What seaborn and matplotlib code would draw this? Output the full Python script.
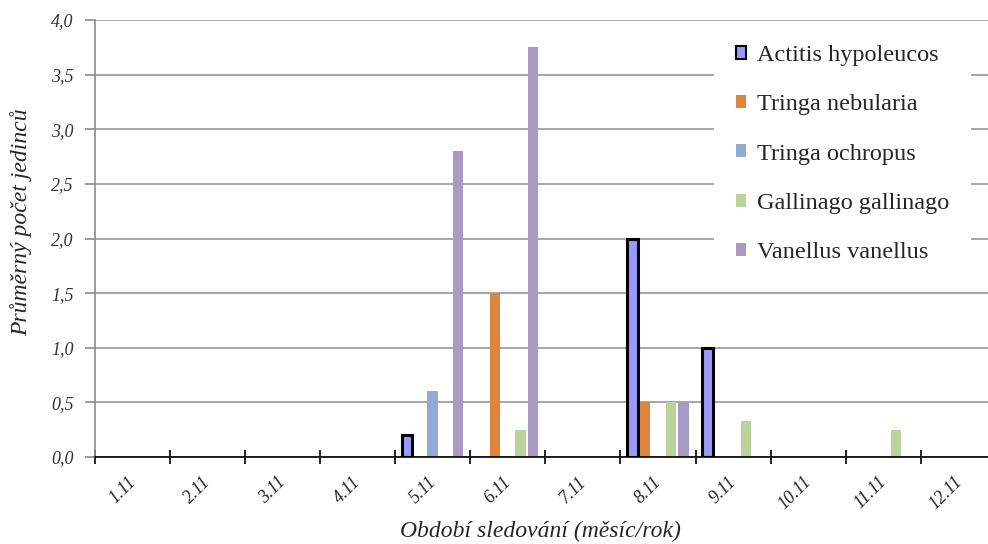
import matplotlib
matplotlib.use("Agg")
import matplotlib.pyplot as plt
import matplotlib.transforms as mtransforms
import seaborn as sns
import pandas as pd
from matplotlib.patches import Patch
from matplotlib.ticker import FuncFormatter, MultipleLocator

categories = ["1.11", "2.11", "3.11", "4.11", "5.11", "6.11", "7.11", "8.11", "9.11", "10.11", "11.11", "12.11"]
species = ["Actitis hypoleucos", "Tringa nebularia", "Tringa ochropus", "Gallinago gallinago", "Vanellus vanellus"]
actitis = [0, 0, 0, 0, 0.2, 0, 0, 2.0, 1.0, 0, 0, 0]
nebularia = [0, 0, 0, 0, 0, 1.5, 0, 0.5, 0, 0, 0, 0]
ochropus = [0, 0, 0, 0, 0.6, 0, 0, 0, 0, 0, 0, 0]
gallinago = [0, 0, 0, 0, 0, 0.25, 0, 0.5, 0.33, 0, 0.25, 0]
vanellus = [0, 0, 0, 0, 2.8, 3.75, 0, 0.5, 0, 0, 0, 0]
colors = ["#9999FF", "#DD843E", "#94AAD4", "#BBD29A", "#A89BC1"]

series = [actitis, nebularia, ochropus, gallinago, vanellus]
rows = []
for sp, vals in zip(species, series):
    for c, v in zip(categories, vals):
        rows.append({"cat": c, "species": sp, "val": v})
df = pd.DataFrame(rows)

sns.set_theme(style="white")
plt.rcParams["font.family"] = ["Liberation Serif", "DejaVu Serif"]

W, H = 988, 544
x0, x1, y0, y1 = 94.5, 996, 457, 20
fig = plt.figure(figsize=(W / 100, H / 100), dpi=100)
ax = fig.add_axes([x0 / W, (H - y0) / H, (x1 - x0) / W, (y0 - y1) / H])

sns.barplot(data=df, x="cat", y="val", hue="species", order=categories, hue_order=species,
            palette=colors, width=0.85, gap=0.2, ax=ax, legend=False, saturation=1, linewidth=0)

for patch in ax.containers[0]:
    if patch.get_height() > 0:
        patch.set_edgecolor("black")
        patch.set_linewidth(2.2)
    else:
        patch.set_visible(False)
for cont in ax.containers[1:]:
    for patch in cont:
        if patch.get_height() <= 0:
            patch.set_visible(False)

ax.set_xlim(-0.5, 11.5)
ax.set_ylim(0, 4.0)
ax.yaxis.set_major_locator(MultipleLocator(0.5))
ax.yaxis.set_major_formatter(FuncFormatter(lambda v, p: f"{v:.1f}".replace(".", ",")))
ax.grid(axis="y", color="#A6A6A6", linewidth=1.4)
ax.set_axisbelow(True)

for s in ["top", "right"]:
    ax.spines[s].set_visible(False)
ax.spines["left"].set_color("#8C8C8C")
ax.spines["left"].set_linewidth(1.2)
ax.spines["bottom"].set_color("black")
ax.spines["bottom"].set_linewidth(1.2)

ax.set_xticks([i - 0.5 for i in range(13)], minor=False)
ax.set_xticklabels([])
ax.set_xticks(range(12), minor=True)
ax.set_xticklabels(categories, minor=True, rotation=45, ha="right", rotation_mode="anchor",
                   fontstyle="italic", fontsize=13, color="#222222")
ax.tick_params(axis="x", which="major", direction="inout", length=10, width=1.2, color="black", bottom=True)
ax.tick_params(axis="x", which="minor", length=0, pad=13)
ax.tick_params(axis="y", direction="out", length=7, width=1.2, color="#8C8C8C", left=True, pad=8,
               labelsize=13, labelcolor="#333333")
for t in ax.get_yticklabels():
    t.set_fontstyle("italic")
offset = mtransforms.ScaledTranslation(-5 / 100, 2 / 100, fig.dpi_scale_trans)
for t in ax.xaxis.get_minorticklabels():
    t.set_transform(t.get_transform() + offset)

ax.set_xlabel("Období sledování (měsíc/rok)", fontstyle="italic", fontsize=17)
ax.xaxis.set_label_coords((540 - x0) / (x1 - x0), (y0 - 531) / (y0 - y1))
ax.xaxis.label.set_va("center")
ax.set_ylabel("Průměrný počet jedinců", fontstyle="italic", fontsize=17)
ax.yaxis.set_label_coords((21 - x0) / (x1 - x0), (y0 - 222) / (y0 - y1))
ax.yaxis.label.set_va("center")

handles = [Patch(facecolor=colors[0], edgecolor="black", linewidth=1.5)] + \
          [Patch(facecolor=c, edgecolor="none") for c in colors[1:]]
leg = ax.legend(handles, species, loc="upper left",
                bbox_to_anchor=((714 - x0) / (x1 - x0), (y0 - 23) / (y0 - y1)),
                borderaxespad=0, frameon=True, fancybox=False, fontsize=17.5, handlelength=0.43,
                handleheight=0.43, handletextpad=0.45, labelspacing=1.165, borderpad=0.9)
leg.get_frame().set_facecolor("white")
leg.get_frame().set_edgecolor("none")
leg.get_frame().set_alpha(1)

fig.savefig("out.png", dpi=100)
